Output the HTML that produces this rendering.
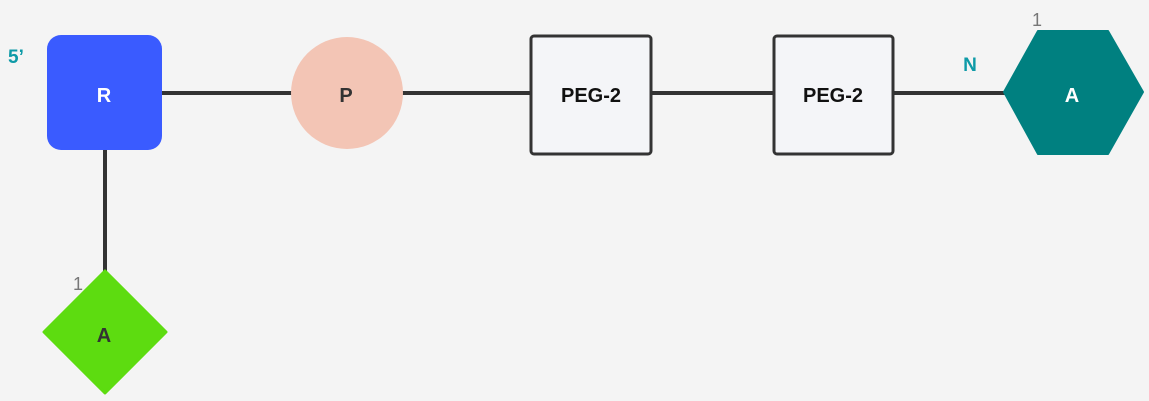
<!DOCTYPE html>
<html><head><style>body{margin:0;background:#f4f4f4;}svg{display:block}</style></head><body>
<svg width="1149" height="401" viewBox="0 0 1149 401" xmlns="http://www.w3.org/2000/svg" font-family="Liberation Sans, Arial, sans-serif" font-weight="bold">
<rect width="1149" height="401" fill="#f4f4f4"/>
<g stroke="#333" stroke-width="4">
<line x1="160" y1="93" x2="295" y2="93"/>
<line x1="400" y1="93" x2="532" y2="93"/>
<line x1="650" y1="93" x2="775" y2="93"/>
<line x1="891" y1="93" x2="1006" y2="93"/>
<line x1="105" y1="148" x2="105" y2="272"/>
</g>
<rect x="47" y="35" width="115" height="115" rx="14" fill="#3a5bff"/>
<text x="104" y="102" font-size="20" fill="#fff" text-anchor="middle">R</text>
<text x="8" y="63" font-size="19" fill="#0e9aa7">5’</text>
<circle cx="347" cy="93" r="56" fill="#f3c5b5"/>
<text x="346" y="102" font-size="20" fill="#333" text-anchor="middle">P</text>
<rect x="531" y="36" width="120" height="118" rx="3" fill="#f4f5f8" stroke="#333" stroke-width="3"/>
<text x="591" y="102" font-size="20" fill="#111" text-anchor="middle">PEG-2</text>
<rect x="774" y="36" width="119" height="118" rx="3" fill="#f4f5f8" stroke="#333" stroke-width="3"/>
<text x="833" y="102" font-size="20" fill="#111" text-anchor="middle">PEG-2</text>
<polygon points="1038,31 1108,31 1143,92 1108,154 1038,154 1004,92" fill="#008080" stroke="#008080" stroke-width="2" stroke-linejoin="round"/>
<text x="1072" y="102" font-size="20" fill="#fff" text-anchor="middle">A</text>
<text x="970" y="71" font-size="19" fill="#0e9aa7" text-anchor="middle">N</text>
<text x="1037" y="26" font-size="18" font-weight="normal" fill="#777" text-anchor="middle">1</text>
<polygon points="105,271 166,332 105,393 44,332" fill="#5ddc10" stroke="#5ddc10" stroke-width="3" stroke-linejoin="round"/>
<text x="104" y="342" font-size="20" fill="#333" text-anchor="middle">A</text>
<text x="78" y="290" font-size="18" font-weight="normal" fill="#777" text-anchor="middle">1</text>
</svg>
</body></html>
